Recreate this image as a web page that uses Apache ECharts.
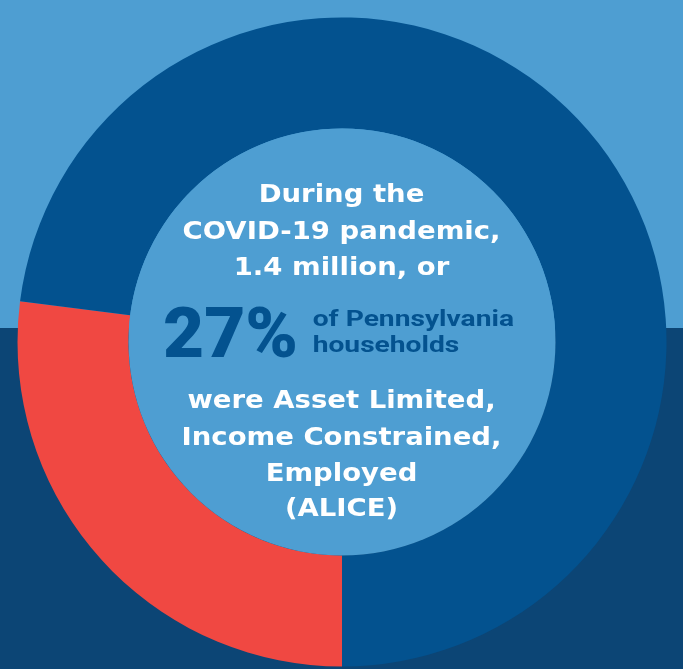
<!DOCTYPE html>
<html>
<head>
<meta charset="utf-8">
<script src="https://cdn.jsdelivr.net/npm/echarts@6/dist/echarts.min.js"></script>
<style>
  html, body { margin: 0; padding: 0; background: #0c4575; }
  #chart { width: 683px; height: 669px; }
</style>
</head>
<body>
<div id="chart"></div>
<script>
// ---- data ----
const categories = ['ALICE households', 'Other households'];
const shares = [27, 73];
const introLines = ['During the', 'COVID-19 pandemic,', '1.4 million, or'];
const noteLines = ['of Pennsylvania', 'households'];
const outroLines = ['were Asset Limited,', 'Income Constrained,', 'Employed', '(ALICE)'];

// ---- style ----
const LIGHT = '#4e9ed2';
const RING = '#03528f';
const RED = '#f04842';
const NAVY = '#0c4575';
const CX = 342, CY = 342;

const chart = echarts.init(document.getElementById('chart'), null, { renderer: 'canvas' });

const whiteFont = 'bold 25px "DejaVu Sans"';
function whiteLine(text, baseline) {
  return {
    type: 'text', x: 341.5, y: baseline - 8, scaleX: 1.1, z: 100, silent: true,
    style: { text: text, font: whiteFont, fill: '#ffffff', align: 'center', verticalAlign: 'middle', textAlign: 'center', textVerticalAlign: 'middle' }
  };
}
const introBase = [203, 240, 276];
const outroBase = [409, 446, 482, 517];
const noteBase = [327, 353];

const elements = [];
introLines.forEach((t, i) => elements.push(whiteLine(t, introBase[i])));
outroLines.forEach((t, i) => elements.push(whiteLine(t, outroBase[i])));
elements.push({
  type: 'text', x: 163, y: 362 - 23, z: 100, silent: true,
  style: { text: shares[0] + '%', font: '900 71px Roboto', fill: RING, align: 'left', verticalAlign: 'middle', textAlign: 'left', textVerticalAlign: 'middle' }
});
noteLines.forEach((t, i) => elements.push({
  type: 'text', x: 312.7, y: noteBase[i] - 7, scaleX: 1.28, z: 100, silent: true,
  style: { text: t, font: 'bold 22px Roboto', fill: RING, align: 'left', verticalAlign: 'middle', textAlign: 'left', textVerticalAlign: 'middle' }
}));

const option = {
  animation: false,
  backgroundColor: {
    type: 'linear', x: 0, y: 0, x2: 0, y2: 1,
    colorStops: [
      { offset: 0, color: LIGHT },
      { offset: 328 / 669, color: LIGHT },
      { offset: 328 / 669, color: NAVY },
      { offset: 1, color: NAVY }
    ]
  },
  series: [
    {
      type: 'pie',
      center: [CX, CY],
      radius: [213.5, 324.5],
      startAngle: -90,
      clockwise: true,
      silent: true,
      label: { show: false },
      labelLine: { show: false },
      itemStyle: { borderWidth: 0 },
      data: categories.map((c, i) => ({ name: c, value: shares[i], itemStyle: { color: i === 0 ? RED : RING } }))
    },
    {
      type: 'pie',
      center: [CX, CY],
      radius: [0, 213.5],
      silent: true,
      label: { show: false },
      labelLine: { show: false },
      itemStyle: { color: LIGHT, borderWidth: 0 },
      data: [{ name: 'center', value: 1 }]
    }
  ],
  graphic: { elements: elements }
};
chart.setOption(option);
</script>
</body>
</html>
